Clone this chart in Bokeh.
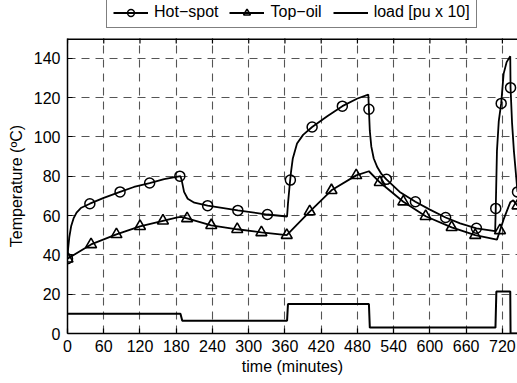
import math
from bokeh.plotting import figure
from bokeh.layouts import column
from bokeh.models import Legend, LegendItem, FixedTicker, Range1d
from bokeh.embed import file_html
from bokeh.resources import INLINE

# ---- data ----
hs_t = [0, 1, 3, 6, 10, 15, 22, 37, 60, 87, 110, 136, 160, 187, 189, 193, 199, 210, 232, 282, 331,
        363.5, 365, 368, 370, 373, 380, 390, 405, 430, 455, 480, 498, 499, 500.5, 503, 507, 513, 520,
        528, 550, 576, 600, 626, 650, 677, 708, 709, 711, 714, 718, 722, 727, 733, 733.5, 736, 739, 745]
hs_T = [38, 43, 49, 54.5, 58.5, 61.5, 63.8, 66, 69, 72, 74.5, 76.5, 78.5, 80, 78, 72, 68.5, 66.5, 65, 62.6, 60.5,
        59.5, 66, 76, 82, 89, 96.6, 101, 105, 110.5, 115.6, 119.5, 121.5, 114, 103, 95, 89, 84.5, 81,
        78.4, 72, 67, 63, 59, 56, 53.5, 52, 63.6, 93, 108, 117, 132, 138, 141, 125, 107, 93, 72]
hs_mark_t = [0, 37, 87, 136, 186, 232, 282, 331, 369, 405, 455, 499, 528, 576, 626, 677, 709, 718, 733.5, 745]
hs_mark_T = [38, 66, 72, 76.5, 80, 65, 62.6, 60.5, 78, 105, 115.6, 114, 78.4, 67, 59, 53.5, 63.6, 117, 125, 72]

to_t = [0, 39, 81, 120, 158, 182, 188, 198, 238, 281, 321, 363, 401, 437, 478, 499, 517, 556, 593, 636, 675,
        711, 716, 722, 733, 738, 745]
to_T = [38, 45.3, 50.4, 54.5, 57.3, 59, 59.3, 58.5, 55, 53, 51.4, 50, 62, 72.8, 80.4, 82.5, 76.9, 67, 59.6, 54, 50,
        47.7, 52.4, 58, 66.7, 67.7, 65]
to_mark_t = [0, 39, 81, 120, 158, 198, 238, 281, 321, 363, 401, 437, 478, 517, 556, 593, 636, 675, 716, 745]
to_mark_T = [38, 45.3, 50.4, 54.5, 57.3, 58.5, 55, 53, 51.4, 50, 62, 72.8, 80.4, 76.9, 67, 59.6, 54, 50, 52.4, 65]

load_t = [0, 187, 190, 363.5, 365, 499, 500.5, 708.5, 710, 733, 733.5, 745]
load_v = [10, 10, 6.5, 6.5, 15, 15, 3, 3, 21.3, 21.3, 0, 0]

x_ticks = [0, 60, 120, 180, 240, 300, 360, 420, 480, 540, 600, 660, 720]
y_ticks = [0, 20, 40, 60, 80, 100, 120, 140]
x_max = 745
y_max = 150
labels = ["Hot−spot", "Top−oil", "load [pu x 10]"]

FONT = "Liberation Sans"

# style of each series
HS = dict(line_color="black", line_width=1.8)
HS_MK = dict(marker="circle", size=10, fill_color=None, line_color="black", line_width=1.5)
TO = dict(line_color="black", line_width=1.8)
TO_MK = dict(marker="triangle", size=11, fill_color=None, line_color="black", line_width=1.6)
LD = dict(line_color="black", line_width=2)

p = figure(frame_width=450, frame_height=295,
           x_range=Range1d(0, x_max), y_range=Range1d(0, y_max),
           output_backend="svg", toolbar_location=None,
           min_border_left=67, min_border_right=0, min_border_top=0, min_border_bottom=46)
p.outline_line_color = None
p.background_fill_color = "white"
p.border_fill_color = "white"

# grid
p.xgrid.ticker = FixedTicker(ticks=x_ticks)
p.ygrid.ticker = FixedTicker(ticks=y_ticks)
for g in (p.xgrid, p.ygrid):
    g.grid_line_color = "#555555"
    g.grid_line_dash = "8 6"
    g.grid_line_width = 1.1

# axes
for ax in (p.xaxis, p.yaxis):
    ax.axis_line_width = 1.5
    ax.axis_line_color = "black"
    ax.major_tick_in = 5
    ax.major_tick_out = 0
    ax.major_tick_line_width = 1.2
    ax.minor_tick_line_color = None
    ax.major_label_text_font = FONT
    ax.major_label_text_font_size = "16px"
    ax.major_label_text_color = "black"
    ax.axis_label_text_font = FONT
    ax.axis_label_text_font_size = "16px"
    ax.axis_label_text_font_style = "normal"
    ax.axis_label_text_color = "black"
p.xaxis.ticker = FixedTicker(ticks=x_ticks)
p.yaxis.ticker = FixedTicker(ticks=y_ticks)
p.xaxis.axis_label = "time (minutes)"
p.yaxis.axis_label = "Temperature (ºC)"
p.xaxis.major_label_standoff = 6
p.xaxis.axis_label_standoff = 3
p.yaxis.major_label_standoff = 7
p.yaxis.axis_label_standoff = 6

# top frame edge with inward ticks
p.line([0, x_max], [y_max, y_max], line_color="black", line_width=3)
p.scatter(x_ticks, [y_max] * len(x_ticks), marker="dash", angle=math.pi / 2, size=10,
          line_color="black", line_width=1.2)

# data renderers
p.line(hs_t, hs_T, **HS)
p.scatter(hs_mark_t, hs_mark_T, **HS_MK)
p.line(to_t, to_T, **TO)
p.scatter(to_mark_t, to_mark_T, **TO_MK)
p.line(load_t, load_v, **LD)

# legend strip above the axes (its frame is aligned with the main frame);
# the same series are drawn there outside its visible range, only to feed the legend
lf = figure(width=517, height=38, x_range=Range1d(-2, -1), y_range=Range1d(-2, -1),
            x_axis_type=None, y_axis_type=None, output_backend="svg", toolbar_location=None,
            min_border_left=0, min_border_right=0, min_border_top=0, min_border_bottom=0)
lf.outline_line_color = None
lf.background_fill_color = "white"
lf.border_fill_color = "white"
r1 = lf.line(hs_t, hs_T, **HS)
r1m = lf.scatter(hs_mark_t, hs_mark_T, **HS_MK)
r2 = lf.line(to_t, to_T, **TO)
r2m = lf.scatter(to_mark_t, to_mark_T, **TO_MK)
r3 = lf.line(load_t, load_v, **LD)

legend = Legend(items=[
    LegendItem(label=labels[0], renderers=[r1, r1m]),
    LegendItem(label=labels[1], renderers=[r2, r2m]),
    LegendItem(label=labels[2], renderers=[r3]),
], orientation="horizontal", location=(39, 10))
legend.label_text_font = FONT
legend.label_text_font_size = "16px"
legend.label_text_color = "black"
legend.glyph_width = 35
legend.glyph_height = 17
legend.label_height = 17
legend.label_standoff = 6
legend.spacing = 11
legend.padding = 6
legend.margin = 0
legend.border_line_color = "black"
legend.border_line_width = 1
legend.background_fill_color = "white"
legend.background_fill_alpha = 1
lf.add_layout(legend, "center")

layout = column(lf, p, spacing=0)
open("out.html", "w").write(file_html(layout, INLINE))
